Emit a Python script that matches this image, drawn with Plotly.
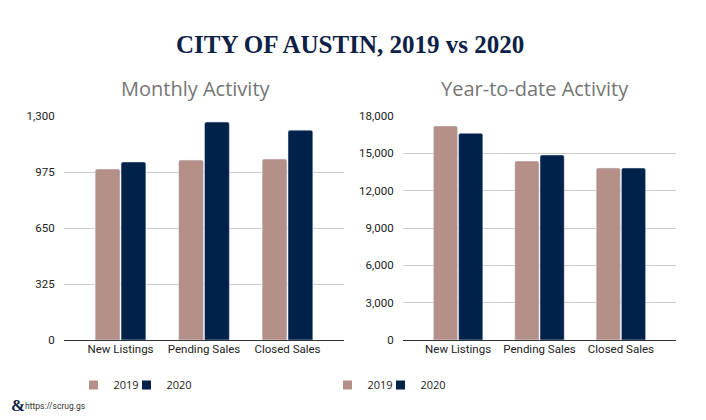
import plotly.graph_objects as go

categories = ["New Listings", "Pending Sales", "Closed Sales"]
monthly_2019 = [992, 1044, 1050]
monthly_2020 = [1033, 1265, 1218]
ytd_2019 = [17200, 14380, 13820]
ytd_2020 = [16610, 14870, 13820]
monthly_ticks = [0, 325, 650, 975, 1300]
ytd_ticks = [0, 3000, 6000, 9000, 12000, 15000, 18000]
series_names = ["2019", "2020"]

C19 = "#b59089"
C20 = "#00214a"
colors = [C19, C20]

# page body has an 8px margin; figure is sized so the page fits the window
OFF = 8
W, H = 706 - 2 * OFF, 420 - 2 * OFF


def X(px):
    return (px - OFF) / W


def Y(py):
    return 1 - (py - OFF) / H


fig = go.Figure()
for name, col, vals in zip(series_names, colors, [monthly_2019, monthly_2020]):
    fig.add_trace(go.Bar(x=categories, y=vals, name=name, marker_color=col,
                         xaxis="x", yaxis="y", showlegend=False, marker_cornerradius=2))
for name, col, vals in zip(series_names, colors, [ytd_2019, ytd_2020]):
    fig.add_trace(go.Bar(x=categories, y=vals, name=name, marker_color=col,
                         xaxis="x2", yaxis="y2", showlegend=False, marker_cornerradius=2))

# legend entries: one legend per item so each can be placed
legend_ids = ["legend", "legend2", "legend3", "legend4"]
legend_text_starts = [114, 167, 368, 421]
k = 0
for xa, ya in [("x", "y"), ("x2", "y2")]:
    for name, col in zip(series_names, colors):
        fig.add_trace(go.Scatter(x=[None], y=[None], name=name, mode="markers",
                                 marker=dict(symbol="square", size=9, color=col),
                                 xaxis=xa, yaxis=ya, legend=legend_ids[k], showlegend=True))
        k += 1

tickfont = dict(family="Roboto", size=11.5, color="#222222")
ydom = [Y(340), Y(116)]
xcommon = dict(type="category", range=[-0.677, 2.677], showgrid=False, showline=False,
               tickfont=tickfont, ticks="", fixedrange=True, automargin=False)
ycommon = dict(showgrid=True, gridcolor="#cccccc", gridwidth=1, zeroline=True,
               zerolinecolor="#333333", zerolinewidth=1, tickfont=tickfont,
               ticks="outside", ticklen=6, tickcolor="rgba(0,0,0,0)", domain=ydom,
               automargin=False, fixedrange=True)

legfont = dict(family="Open Sans", size=11, color="#222222")
legends = {}
for lid, tx in zip(legend_ids, legend_text_starts):
    legends[lid] = dict(orientation="h", x=X(tx - 40.5), y=Y(385), xanchor="left",
                        yanchor="middle", font=legfont, itemwidth=30,
                        bgcolor="rgba(0,0,0,0)")

fig.update_layout(
    width=W, height=H,
    margin=dict(l=0, r=0, t=0, b=0, autoexpand=False),
    paper_bgcolor="white", plot_bgcolor="white",
    barmode="group", bargap=0.38, bargroupgap=0.04,
    xaxis=dict(domain=[X(64), X(344)], anchor="y", **xcommon),
    xaxis2=dict(domain=[X(403), X(676)], anchor="y2", **xcommon),
    yaxis=dict(anchor="x", range=[0, 1300], tickvals=monthly_ticks,
               tickformat=",", **ycommon),
    yaxis2=dict(anchor="x2", range=[0, 18000], tickvals=ytd_ticks,
                tickformat=",", **ycommon),
    showlegend=True,
    annotations=[
        dict(text="<b>CITY OF AUSTIN, 2019 vs 2020</b>", x=X(350), y=Y(45),
             xref="paper", yref="paper", showarrow=False, xanchor="center", yanchor="middle",
             font=dict(family="Liberation Serif", size=25, color="#0d2147")),
        dict(text="Monthly Activity", x=X(196), y=Y(89),
             xref="paper", yref="paper", showarrow=False, xanchor="center", yanchor="middle",
             font=dict(family="Open Sans", size=20, color="#757575")),
        dict(text="Year-to-date Activity", x=X(535), y=Y(89),
             xref="paper", yref="paper", showarrow=False, xanchor="center", yanchor="middle",
             font=dict(family="Open Sans", size=20, color="#757575")),
        dict(text="&", x=X(9), y=Y(405),
             xref="paper", yref="paper", showarrow=False, xanchor="left", yanchor="middle",
             font=dict(family="Liberation Serif", size=17, color="#0d2147", weight="bold")),
        dict(text="https://scrug.gs", x=X(23), y=Y(406),
             xref="paper", yref="paper", showarrow=False, xanchor="left", yanchor="middle",
             font=dict(family="Roboto", size=8.5, color="#333333")),
    ],
)
fig.update_layout(**legends)

fig.write_html("out.html")
